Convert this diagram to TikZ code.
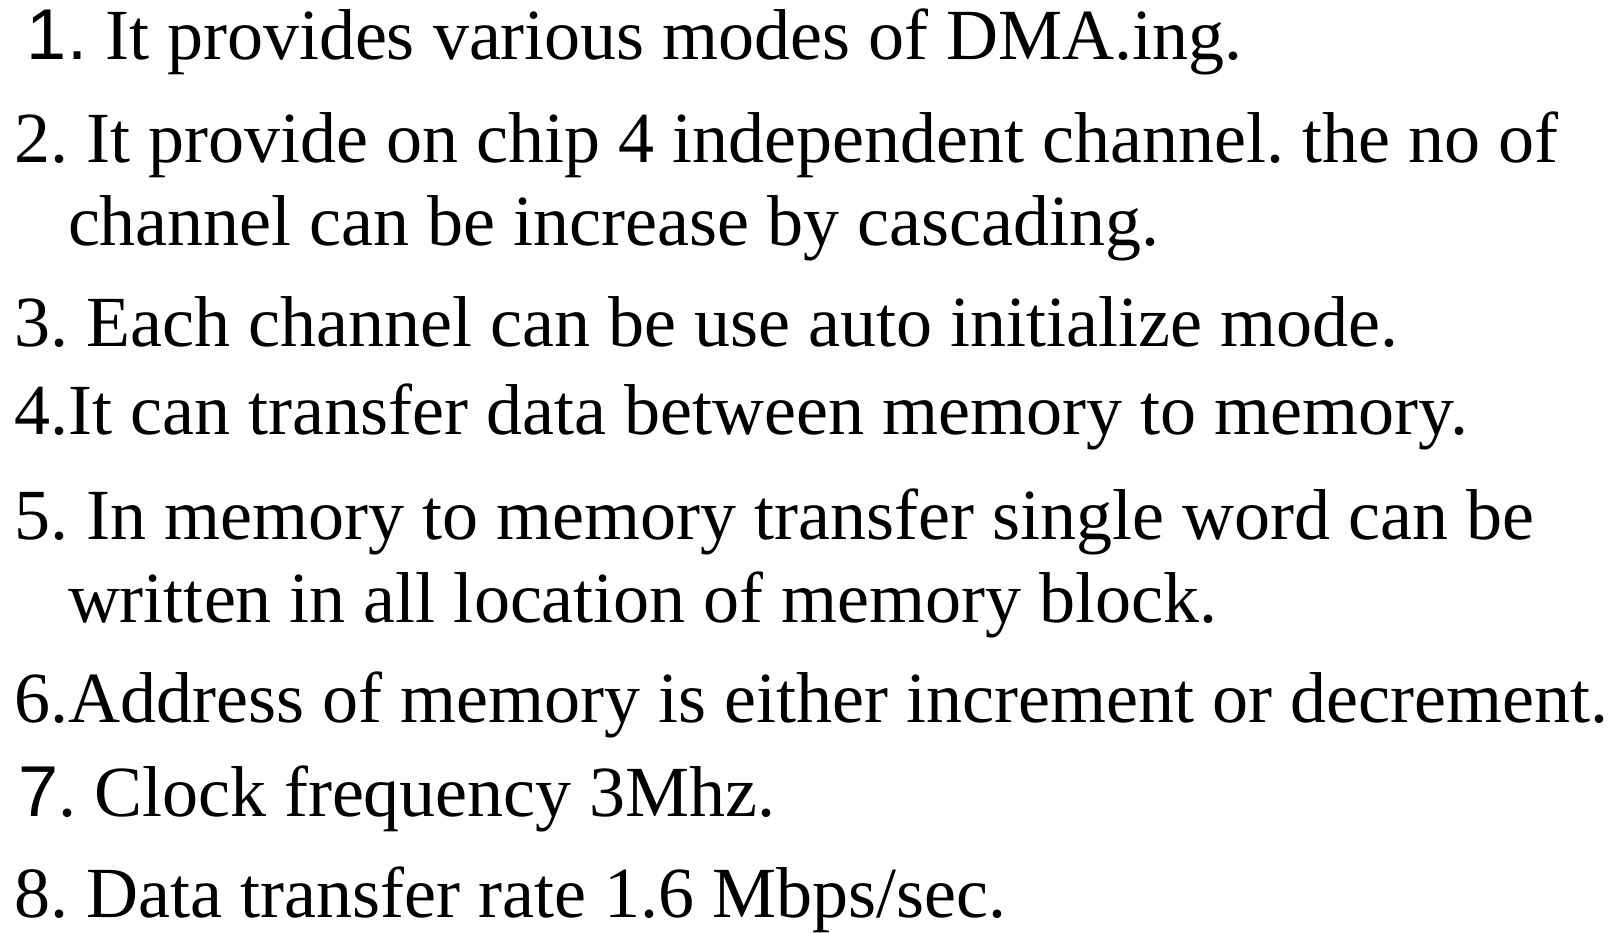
\documentclass[tikz,border=0pt]{standalone}
\usepackage{fontspec}
\setmainfont{Liberation Serif}
\newfontfamily\numsans{Liberation Sans}
\frenchspacing
\begin{document}
\begin{tikzpicture}[x=1pt,y=1pt,
  txt/.style={anchor=base west,inner sep=0pt,outer sep=0pt,font=\fontsize{72}{80}\selectfont}]
\useasboundingbox[fill=white] (0,0) rectangle (1618,933);
\node[txt] (l1) at (27,{933-60}) {{\numsans 1.} It provides various modes of DMA.ing.};
\node[txt] (l2a) at (15,{933-163}) {2. It provide on chip 4 independent channel. the no of};
\node[txt] (l2b) at (68,{933-246}) {channel can be increase by cascading.};
\node[txt] (l3) at (15,{933-347}) {3. Each channel can be use auto initialize mode.};
\node[txt] (l4) at (15,{933-435}) {4.It can transfer data between memory to memory.};
\node[txt] (l5a) at (15,{933-540}) {5. In memory to memory transfer single word can be};
\node[txt] (l5b) at (68,{933-623}) {written in all location of memory block.};
\node[txt] (l6) at (15,{933-723}) {6.Address of memory is either increment or decrement.};
\node[txt] (l7) at (18,{933-817}) {{\numsans 7}. Clock frequency 3Mhz.};
\node[txt] (l8) at (15,{933-918}) {8. Data transfer rate 1.6 Mbps/sec.};
\end{tikzpicture}
\end{document}
